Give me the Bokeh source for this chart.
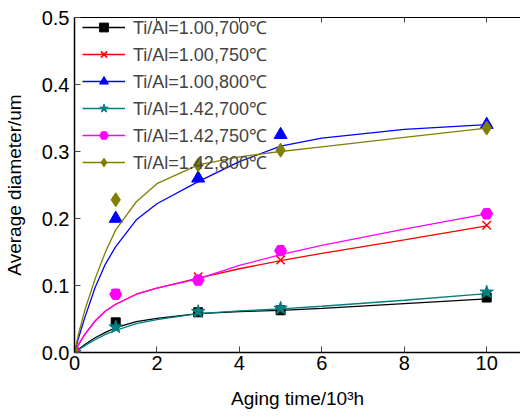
from bokeh.plotting import figure
from bokeh.models import LinearAxis, FixedTicker, PrintfTickFormatter, Range1d, Legend, LegendItem, CustomJSTickFormatter
from bokeh.embed import file_html
from bokeh.resources import INLINE

# measured points
t_pts = [0, 1, 3, 5, 10]
d_100_700 = [0, 0.045, 0.060, 0.063, 0.082]
d_100_750 = [0, 0.088, 0.113, 0.138, 0.190]
d_100_800 = [0, 0.200, 0.260, 0.325, 0.340]
d_142_700 = [0, 0.038, 0.061, 0.066, 0.090]
d_142_750 = [0, 0.087, 0.108, 0.152, 0.207]
d_142_800 = [0, 0.228, 0.280, 0.302, 0.335]

# fitted curves
t_fit = [0, 0.1, 0.25, 0.5, 0.75, 1, 1.5, 2, 3, 4, 5, 6, 8, 10]
f_100_700 = [0, 0.005, 0.012, 0.022, 0.030, 0.037, 0.046, 0.051, 0.058, 0.061, 0.063, 0.066, 0.073, 0.080]
f_100_750 = [0, 0.012, 0.027, 0.047, 0.062, 0.072, 0.087, 0.096, 0.111, 0.125, 0.137, 0.148, 0.168, 0.189]
f_100_800 = [0, 0.022, 0.052, 0.097, 0.132, 0.158, 0.198, 0.222, 0.255, 0.285, 0.308, 0.320, 0.333, 0.340]
f_142_700 = [0, 0.004, 0.010, 0.019, 0.027, 0.033, 0.043, 0.049, 0.058, 0.062, 0.065, 0.069, 0.078, 0.088]
f_142_750 = [0, 0.012, 0.027, 0.047, 0.062, 0.072, 0.087, 0.096, 0.110, 0.130, 0.146, 0.160, 0.184, 0.207]
f_142_800 = [0, 0.028, 0.063, 0.110, 0.150, 0.183, 0.225, 0.252, 0.280, 0.292, 0.300, 0.307, 0.321, 0.335]

labels = ["Ti/Al=1.00,700\u2103", "Ti/Al=1.00,750\u2103", "Ti/Al=1.00,800\u2103",
          "Ti/Al=1.42,700\u2103", "Ti/Al=1.42,750\u2103", "Ti/Al=1.42,800\u2103"]
x_ticks = [0, 2, 4, 6, 8, 10]
y_ticks = [0.0, 0.1, 0.2, 0.3, 0.4, 0.5]

series = [
    (d_100_700, f_100_700, "black", "square", 9),
    (d_100_750, f_100_750, "red", "x", 12),
    (d_100_800, f_100_800, "blue", "triangle", 13),
    (d_142_700, f_142_700, "#008080", "star", 14),
    (d_142_750, f_142_750, "magenta", "hex", 12),
    (d_142_800, f_142_800, "#808000", "diamond", 14),
]

FONT = "Liberation Sans"

p = figure(width=520, height=411, output_backend="svg", toolbar_location=None,
           x_range=Range1d(0, 10.82), y_range=Range1d(0, 0.5),
           min_border_left=74, min_border_right=0, min_border_top=17, min_border_bottom=56)
p.outline_line_color = None
p.grid.visible = False
p.background_fill_color = "white"

items = []
for (d, f, c, m, s), lab in zip(series, labels):
    r1 = p.line(t_fit, f, line_color=c, line_width=1.3)
    r2 = p.scatter(t_pts, d, marker=m, size=s, fill_color=c, line_color=c, line_width=1.5 if m == "x" else 1)
    items.append(LegendItem(label=lab, renderers=[r1, r2]))

legend = Legend(items=items, location=(8, 178))
legend.background_fill_alpha = 0
legend.border_line_color = None
legend.label_text_font = FONT
legend.label_text_font_size = "18px"
legend.glyph_width = 43
legend.glyph_height = 22
legend.label_height = 22
legend.spacing = 3
legend.padding = 0
legend.margin = 0
legend.label_standoff = 8
p.add_layout(legend)

for ax in [p.xaxis[0], p.yaxis[0]]:
    ax.axis_line_color = "black"
    ax.axis_line_width = 1.5
    ax.major_tick_in = 6
    ax.major_tick_out = 0
    ax.minor_tick_line_color = None
    ax.major_tick_line_color = "#444444"
    ax.major_label_text_font = FONT
    ax.major_label_text_font_size = "20px"
    ax.major_label_text_color = "black"
    ax.axis_label_text_font = FONT
    ax.axis_label_text_font_size = "19px"
    ax.axis_label_text_font_style = "normal"
    ax.axis_label_text_color = "black"

p.xaxis.ticker = FixedTicker(ticks=x_ticks)
p.yaxis.ticker = FixedTicker(ticks=y_ticks)
p.yaxis.formatter = PrintfTickFormatter(format="%.1f")
p.xaxis.formatter = PrintfTickFormatter(format="%d")
p.xaxis.axis_label = "Aging time/10\u00b3h"
p.yaxis.axis_label = "Average diameter/um"
p.xaxis.major_label_standoff = 3
p.yaxis.major_label_standoff = 5
p.xaxis.axis_label_standoff = 15
p.yaxis.axis_label_standoff = 14

top = LinearAxis(ticker=FixedTicker(ticks=x_ticks), formatter=CustomJSTickFormatter(code="return ''"))
top.major_label_standoff = 0
top.major_tick_in = 5
top.major_tick_out = 0
top.minor_tick_line_color = None
top.axis_line_color = "black"
top.axis_line_width = 1.2
top.major_tick_line_color = "#444444"
p.add_layout(top, "above")

open("out.html", "w").write(file_html(p, INLINE))
